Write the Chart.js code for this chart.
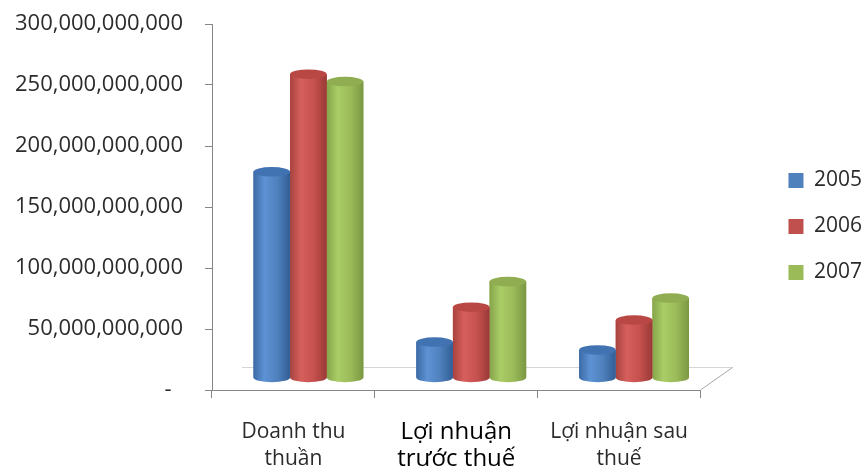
<!DOCTYPE html>
<html>
<head>
<meta charset="utf-8">
<script src="https://cdn.jsdelivr.net/npm/chart.js@4/dist/chart.umd.min.js"></script>
<style>
  html, body { margin: 0; padding: 0; background: #ffffff; }
  #wrap { width: 866px; height: 471px; }
</style>
</head>
<body>
<div id="wrap"><canvas id="chart" width="866" height="471"></canvas></div>
<script>
// Categories (multi-line labels) and yearly series, in VND
const categories = [['Doanh thu', 'thuần'], ['Lợi nhuận', 'trước thuế'], ['Lợi nhuận sau', 'thuế']];
const years = ['2005', '2006', '2007'];
const values2005 = [169e9, 29.5e9, 23e9];
const values2006 = [249e9, 58e9, 47.5e9];
const values2007 = [243e9, 79e9, 65.5e9];
const yTicks = [0, 50e9, 100e9, 150e9, 200e9, 250e9, 300e9];

const FONT = '"Open Sans", "Liberation Sans", sans-serif';
const TEXT = '#2b2b2b';
const AXIS = '#868686';

const baseColors = ['#4f81bd', '#c0504d', '#9bbb59'];
// cylinder shading: left edge, highlight, body, right edge, top cap
const shades = [
  { edge: '#3d6aa5', light: '#5d92d4', mid: '#4f81bd', dark: '#325d94', top: '#4172b2' },
  { edge: '#a8433f', light: '#d65f5c', mid: '#c6514e', dark: '#9a3936', top: '#b94845' },
  { edge: '#86a54a', light: '#aacd67', mid: '#9bbb59', dark: '#7b9843', top: '#90ae51' }
];

// 3D depth offset of the bars relative to the front axis plane
const DEPTH_X = 15, DEPTH_Y = -12;
// vertical nudge of the legend column
const LEGEND_SHIFT = -21;

const cylinderPlugin = {
  id: 'cylinders',
  afterLayout(chart) {
    if (chart.legend) {
      chart.legend.top += LEGEND_SHIFT;
      chart.legend.bottom += LEGEND_SHIFT;
    }
  },
  beforeDatasetsDraw(chart) {
    const { ctx, chartArea: a } = chart;
    // floor of the 3D plot: back edge and right side
    ctx.save();
    ctx.lineWidth = 1;
    ctx.strokeStyle = '#d6d6d6';
    ctx.beginPath();
    ctx.moveTo(a.left + 30, a.bottom - 22.5);
    ctx.lineTo(a.right + 32, a.bottom - 22.5);
    ctx.stroke();
    ctx.strokeStyle = '#a6a6a6';
    ctx.beginPath();
    ctx.moveTo(a.right, a.bottom);
    ctx.lineTo(a.right + 32, a.bottom - 22.5);
    ctx.stroke();
    ctx.restore();
    ctx.save();
    ctx.translate(DEPTH_X, DEPTH_Y);
  },
  afterDatasetsDraw(chart) {
    const ctx = chart.ctx;
    for (let di = chart.data.datasets.length - 1; di >= 0; di--) {
      const meta = chart.getDatasetMeta(di);
      const s = shades[di];
      meta.data.forEach(el => {
        const { x, y, base, width } = el.getProps(['x', 'y', 'base', 'width'], true);
        const l = x - width / 2, r = x + width / 2, ry = width * 0.13;
        const g = ctx.createLinearGradient(l, 0, r, 0);
        g.addColorStop(0, s.edge);
        g.addColorStop(0.3, s.light);
        g.addColorStop(0.65, s.mid);
        g.addColorStop(1, s.dark);
        ctx.fillStyle = g;
        ctx.beginPath();
        ctx.moveTo(l, y);
        ctx.lineTo(l, base);
        ctx.ellipse(x, base, width / 2, ry, 0, Math.PI, 0, true);
        ctx.lineTo(r, y);
        ctx.closePath();
        ctx.fill();
        ctx.fillStyle = s.top;
        ctx.beginPath();
        ctx.ellipse(x, y, width / 2, ry, 0, 0, Math.PI * 2);
        ctx.fill();
      });
    }
    ctx.restore();
  }
};

const series = [values2005, values2006, values2007];

new Chart(document.getElementById('chart'), {
  type: 'bar',
  data: {
    labels: categories,
    datasets: years.map((y, i) => ({
      label: y,
      data: series[i],
      backgroundColor: baseColors[i],
      borderWidth: 0,
      categoryPercentage: 0.675,
      barPercentage: 1.0
    }))
  },
  options: {
    responsive: false,
    animation: false,
    events: [],
    layout: { padding: { left: 12, top: 24, right: -6, bottom: 0 } },
    plugins: {
      tooltip: { enabled: false },
      legend: {
        position: 'right',
        align: 'center',
        labels: {
          boxWidth: 15,
          boxHeight: 15,
          padding: 25,
          color: TEXT,
          font: { family: FONT, size: 21 }
        }
      }
    },
    scales: {
      x: {
        grid: { display: true, drawOnChartArea: false, drawTicks: true, tickLength: 8, color: AXIS, offset: true },
        border: { color: AXIS, width: 1 },
        ticks: {
          padding: 20,
          color: ctx => ctx.index === 1 ? '#000000' : TEXT,
          font: ctx => ctx.index === 1
            ? { family: FONT, size: 24, weight: '400', lineHeight: 1.15 }
            : { family: FONT, size: 21, weight: '400', lineHeight: 1.3 }
        },
        afterFit(s) { s.height = 81; }
      },
      y: {
        min: 0,
        max: 300e9,
        afterBuildTicks(s) { s.ticks = yTicks.map(v => ({ value: v })); },
        grid: { display: true, drawOnChartArea: false, drawTicks: true, tickLength: 7, color: AXIS },
        border: { color: AXIS, width: 1 },
        ticks: {
          padding: 22,
          color: TEXT,
          font: { family: FONT, size: 22 },
          callback: v => v === 0 ? '-  ' : Number(v).toLocaleString('en-US')
        },
        afterFit(s) { s.width = 200; s.paddingTop = 0; s.paddingBottom = 0; }
      },
      depthGap: {
        type: 'linear',
        position: 'right',
        display: true,
        grid: { display: false },
        border: { display: false },
        ticks: { display: false },
        afterFit(s) { s.width = 63; }
      }
    }
  },
  plugins: [cylinderPlugin]
});
</script>
</body>
</html>
